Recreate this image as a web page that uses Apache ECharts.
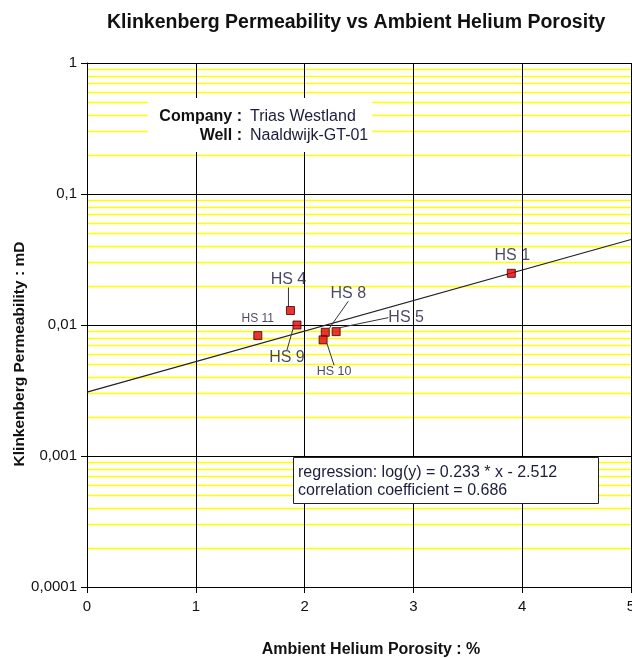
<!DOCTYPE html>
<html>
<head>
<meta charset="utf-8">
<script src="https://cdn.jsdelivr.net/npm/echarts@6/dist/echarts.min.js"></script>
<style>
  html, body { margin: 0; padding: 0; background: #fff; }
  #chart { width: 632px; height: 658px; }
</style>
</head>
<body>
<div id="chart"></div>
<script>
// Core plug samples: porosity (%) and Klinkenberg permeability (mD)
const sampleNames = ['HS 1', 'HS 4', 'HS 5', 'HS 8', 'HS 9', 'HS 10', 'HS 11'];
const porosity = [3.90, 1.87, 2.29, 2.19, 1.93, 2.17, 1.57];
const permeability = [0.0248, 0.0129, 0.0089, 0.0088, 0.0100, 0.0077, 0.0083];

// Regression reported in the note: log(y) = slope * x + intercept
const regSlope = 0.233;
const regIntercept = -2.512;
const regCorrelation = 0.686;
const regX = [0, 5];

// Axis tick labels (decimal comma)
const xTickLabels = ['0', '1', '2', '3', '4', '5'];
const yTickLabels = ['0,0001', '0,001', '0,01', '0,1', '1'];

// Label placement for each sample (offset of label centre from the marker, font size)
const labelPlace = {
  'HS 1':  { dx: 1,  dy: -18, size: 16, line: false },
  'HS 4':  { dx: -2, dy: -31, size: 16, line: true },
  'HS 5':  { dx: 70, dy: -14, size: 16, line: true },
  'HS 8':  { dx: 23, dy: -39, size: 16, line: true },
  'HS 9':  { dx: -10, dy: 33, size: 16, line: true },
  'HS 10': { dx: 11, dy: 32, size: 12.5, line: true },
  'HS 11': { dx: 0,  dy: -17, size: 12, line: false }
};

const FONT = '"Liberation Sans", Arial, sans-serif';
const TEXT = '#1c1c3c';

// Minor log grid values (2..9 within each decade)
const minorGrid = [];
for (let e = -4; e < 0; e++) {
  for (let m = 2; m <= 9; m++) minorGrid.push(m * Math.pow(10, e));
}

const points = porosity.map((x, i) => ({
  name: sampleNames[i],
  value: [x, permeability[i]],
  label: { fontSize: labelPlace[sampleNames[i]].size },
  labelLine: { show: labelPlace[sampleNames[i]].line }
}));

const regLine = regX.map(x => [x, Math.pow(10, regSlope * x + regIntercept)]);

const chart = echarts.init(document.getElementById('chart'), null, { renderer: 'canvas' });
chart.setOption({
  animation: false,
  backgroundColor: '#fff',
  textStyle: { fontFamily: FONT },
  title: {
    text: 'Klinkenberg Permeability vs Ambient Helium Porosity',
    left: 102, top: 8,
    textStyle: { fontFamily: FONT, fontSize: 19.5, fontWeight: 'bold', color: '#111' }
  },
  grid: { left: 87, right: 1, top: 63, bottom: 71, containLabel: false, outerBoundsMode: 'none' },
  xAxis: {
    type: 'value', min: 0, max: 5, interval: 1,
    name: 'Ambient Helium Porosity : %',
    nameLocation: 'middle', nameGap: 55, nameMoveOverlap: false,
    nameTextStyle: { fontFamily: FONT, fontSize: 16, fontWeight: 'bold', color: '#111', padding: [0, 0, 0, 24] },
    axisLine: { lineStyle: { color: '#000', width: 1 } },
    axisTick: { show: true, length: 6, lineStyle: { color: '#000' } },
    axisLabel: {
      fontFamily: FONT, fontSize: 15, color: '#111', margin: 12,
      formatter: v => xTickLabels[Math.round(v)]
    },
    splitLine: { show: true, lineStyle: { color: '#000', width: 1 } }
  },
  yAxis: {
    type: 'log', logBase: 10, min: 0.0001, max: 1,
    name: 'Klinkenberg Permeability : mD',
    nameLocation: 'middle', nameGap: 59, nameMoveOverlap: false,
    nameTextStyle: { fontFamily: FONT, fontSize: 15.5, fontWeight: 'bold', color: '#111', padding: [0, 58, 0, 0] },
    axisLine: { show: true, lineStyle: { color: '#000', width: 1 } },
    axisTick: { show: true, length: 6, lineStyle: { color: '#000' } },
    axisLabel: {
      fontFamily: FONT, fontSize: 15, color: '#111', margin: 10,
      formatter: v => yTickLabels[Math.round(Math.log10(v)) + 4]
    },
    splitLine: { show: true, lineStyle: { color: '#000', width: 1 } }
  },
  series: [
    {
      // yellow minor log gridlines, drawn across the full x range
      type: 'custom', z: -1, silent: true,
      data: minorGrid.map(v => [0, v]),
      renderItem: (params, api) => {
        const v = api.value(1);
        const a = api.coord([0, v]);
        const b = api.coord([5, v]);
        const y = Math.round(a[1]) + 0.5;
        return {
          type: 'line', silent: true,
          shape: { x1: a[0], y1: y, x2: b[0], y2: y },
          style: { stroke: '#ffff00', lineWidth: 1.3 }
        };
      }
    },
    {
      type: 'line', data: regLine, showSymbol: false, symbol: 'none', silent: true,
      lineStyle: { color: '#222', width: 1.2 }, z: 3
    },
    {
      type: 'scatter', data: points, z: 5,
      symbol: 'rect', symbolSize: 8,
      itemStyle: { color: '#e60000', borderColor: '#3a0000', borderWidth: 1 },
      label: {
        show: true, position: 'inside', formatter: p => p.name,
        fontFamily: FONT, color: TEXT
      },
      labelLine: { show: true, lineStyle: { color: '#333', width: 1 } },
      labelLayout: p => {
        const lp = labelPlace[sampleNames[p.dataIndex]];
        return { dx: lp.dx, dy: lp.dy };
      }
    }
  ],
  graphic: [
    { type: 'rect', z: 100, shape: { x: 148, y: 98, width: 224, height: 54 }, style: { fill: '#fff' } },
    { type: 'text', z: 101, x: 242, y: 117, style: { text: 'Company :', font: 'bold 16px ' + FONT, fill: '#111', textAlign: 'right', textVerticalAlign: 'middle' } },
    { type: 'text', z: 101, x: 242, y: 136, style: { text: 'Well :', font: 'bold 16px ' + FONT, fill: '#111', textAlign: 'right', textVerticalAlign: 'middle' } },
    { type: 'text', z: 101, x: 250, y: 117, style: { text: 'Trias Westland', font: '16px ' + FONT, fill: TEXT, textAlign: 'left', textVerticalAlign: 'middle' } },
    { type: 'text', z: 101, x: 250, y: 136, style: { text: 'Naaldwijk-GT-01', font: '16px ' + FONT, fill: TEXT, textAlign: 'left', textVerticalAlign: 'middle' } },
    { type: 'rect', z: 100, shape: { x: 293.5, y: 457.5, width: 305, height: 46 }, style: { fill: '#fff', stroke: '#222', lineWidth: 1 } },
    { type: 'text', z: 101, x: 298, y: 473, style: { text: 'regression: log(y) = ' + regSlope.toFixed(3) + ' * x - ' + Math.abs(regIntercept).toFixed(3), font: '16px ' + FONT, fill: TEXT, textVerticalAlign: 'middle' } },
    { type: 'text', z: 101, x: 298, y: 491, style: { text: 'correlation coefficient = ' + regCorrelation.toFixed(3), font: '16px ' + FONT, fill: TEXT, textVerticalAlign: 'middle' } }
  ]
});
</script>
</body>
</html>
